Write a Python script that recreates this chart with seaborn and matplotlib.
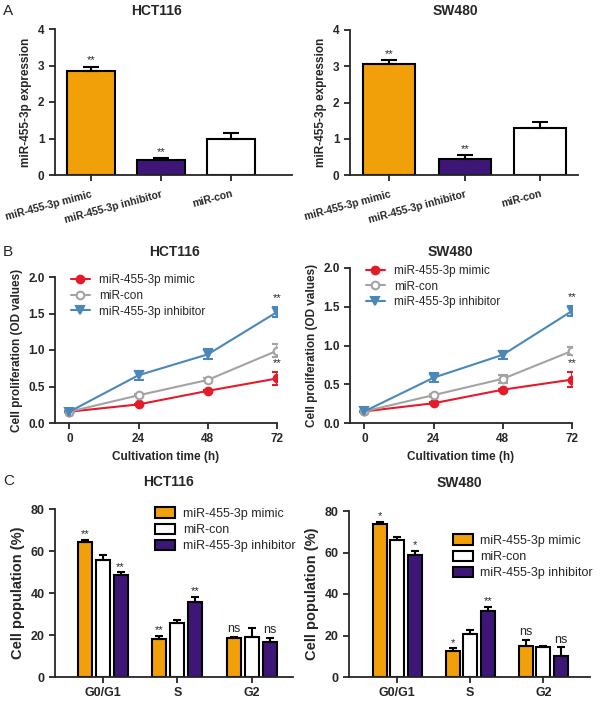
import numpy as np
import pandas as pd
import seaborn as sns
import matplotlib.pyplot as plt

# ---- data ----
groups_a = ['miR-455-3p mimic', 'miR-455-3p inhibitor', 'miR-con']
hct_expr = [2.85, 0.40, 1.00]
hct_expr_err = [0.12, 0.07, 0.15]
hct_expr_sig = ['**', '**', '']
sw_expr = [3.07, 0.45, 1.30]
sw_expr_err = [0.10, 0.10, 0.15]
sw_expr_sig = ['**', '**', '']

times = [0, 24, 48, 72]
hct_mimic = [0.155, 0.255, 0.44, 0.61]
hct_mimic_err = [0.01, 0.01, 0.015, 0.09]
hct_con = [0.155, 0.38, 0.59, 0.99]
hct_con_err = [0.01, 0.015, 0.02, 0.09]
hct_inh = [0.155, 0.655, 0.94, 1.52]
hct_inh_err = [0.01, 0.06, 0.07, 0.07]
sw_mimic = [0.15, 0.255, 0.43, 0.56]
sw_mimic_err = [0.01, 0.015, 0.015, 0.10]
sw_con = [0.15, 0.36, 0.57, 0.93]
sw_con_err = [0.01, 0.02, 0.05, 0.05]
sw_inh = [0.15, 0.585, 0.88, 1.445]
sw_inh_err = [0.01, 0.06, 0.05, 0.07]

phases = ['G0/G1', 'S', 'G2']
treat_c = ['miR-455-3p mimic', 'miR-con', 'miR-455-3p inhibitor']
hct_cycle = {'miR-455-3p mimic': [64.5, 18.0, 18.6],
             'miR-con': [55.6, 25.9, 19.2],
             'miR-455-3p inhibitor': [48.6, 35.6, 16.8]}
hct_cycle_err = {'miR-455-3p mimic': [0.8, 1.5, 0.5],
                 'miR-con': [2.4, 1.4, 4.0],
                 'miR-455-3p inhibitor': [1.3, 2.5, 2.0]}
hct_cycle_sig = {'miR-455-3p mimic': ['**', '**', 'ns'],
                 'miR-con': ['', '', ''],
                 'miR-455-3p inhibitor': ['**', '**', 'ns']}
sw_cycle = {'miR-455-3p mimic': [73.6, 12.3, 14.8],
            'miR-con': [65.9, 20.6, 14.3],
            'miR-455-3p inhibitor': [58.6, 31.8, 10.3]}
sw_cycle_err = {'miR-455-3p mimic': [1.2, 1.5, 3.0],
                'miR-con': [1.5, 2.0, 0.7],
                'miR-455-3p inhibitor': [2.3, 2.0, 4.0]}
sw_cycle_sig = {'miR-455-3p mimic': ['*', '*', 'ns'],
                'miR-con': ['', '', ''],
                'miR-455-3p inhibitor': ['*', '**', 'ns']}

ORANGE = '#F2A00A'
PURPLE = '#3D1678'
RED = '#E31B2B'
GRAY = '#A3A3A3'
BLUE = '#4A88BA'

sns.set_theme(style='ticks')
plt.rcParams['font.family'] = ['Liberation Sans', 'DejaVu Sans']
plt.rcParams['axes.linewidth'] = 1.3
plt.rcParams['xtick.major.width'] = 1.3
plt.rcParams['ytick.major.width'] = 1.3
plt.rcParams['xtick.major.size'] = 4
plt.rcParams['ytick.major.size'] = 4

W, H = 600, 702
fig = plt.figure(figsize=(6, 7.02), dpi=100)


def add_ax(l, t, r, b):
    return fig.add_axes([l / W, 1 - b / H, (r - l) / W, (b - t) / H])


def ftext(x, y, s, **kw):
    fig.text(x / W, 1 - y / H, s, **kw)


def style_ax(ax, fs=8.5):
    sns.despine(ax=ax)
    for lab in ax.get_xticklabels() + ax.get_yticklabels():
        lab.set_fontweight('bold')
        lab.set_fontsize(fs)


# ---- panel A ----
def panel_a(ax, vals, errs, sigs, xlim):
    df = pd.DataFrame({'group': groups_a, 'val': vals})
    sns.barplot(data=df, x='group', y='val', hue='group', order=groups_a,
                palette=[ORANGE, PURPLE, 'white'], saturation=1,
                edgecolor='black', linewidth=1.5, width=0.69, legend=False,
                ax=ax)
    bars = [c[0] for c in ax.containers]
    for bar, e, s in zip(bars, errs, sigs):
        cx = bar.get_x() + bar.get_width() / 2
        top = bar.get_height()
        ax.errorbar(cx, top, yerr=[[0], [e]], color='black', capsize=5.5,
                    elinewidth=1.5, capthick=1.5, zorder=3)
        if s:
            ax.text(cx, top + e + 0.03, s, ha='center', va='bottom', fontsize=8)
    ax.set_ylim(0, 4)
    ax.set_yticks([0, 1, 2, 3, 4])
    ax.set_xlim(*xlim)
    ax.set_xlabel('')
    ax.set_ylabel('miR-455-3p expression', fontsize=8.5, fontweight='bold')
    style_ax(ax)
    ax.set_xticks(range(3))
    ax.set_xticklabels(groups_a, rotation=15, ha='right', va='top',
                       rotation_mode='anchor', fontsize=7.5, fontweight='bold')
    ax.tick_params(axis='x', pad=6)


ax1 = add_ax(55, 29, 292, 175)
panel_a(ax1, hct_expr, hct_expr_err, hct_expr_sig, (-0.51, 2.87))
ax2 = add_ax(350, 30, 578, 175)
panel_a(ax2, sw_expr, sw_expr_err, sw_expr_sig, (-0.52, 2.5))


# ---- panel B ----
def panel_b(ax, series, errs):
    names = ['miR-455-3p mimic', 'miR-con', 'miR-455-3p inhibitor']
    rows = []
    for n, v in zip(names, series):
        for t, y in zip(times, v):
            rows.append({'time': t, 'od': y, 'group': n})
    df = pd.DataFrame(rows)
    pal = {names[0]: RED, names[1]: GRAY, names[2]: BLUE}
    sns.lineplot(data=df, x='time', y='od', hue='group', style='group',
                 hue_order=names, style_order=names, palette=pal,
                 markers={names[0]: 'o', names[1]: 'o', names[2]: 'v'},
                 dashes=False, markersize=5.5, linewidth=1.5,
                 markeredgewidth=1.5, legend=False, ax=ax)
    lines = ax.lines[:3]
    for ln, c in zip(lines, [RED, GRAY, BLUE]):
        ln.set_markeredgecolor(c)
    lines[1].set_markerfacecolor('white')
    for v, e, c in zip(series, errs, [RED, GRAY, BLUE]):
        ax.errorbar(times, v, yerr=e, fmt='none', ecolor=c, elinewidth=1.5,
                    capsize=3.5, capthick=1.5, zorder=1)
    ax.text(72, series[2][3] + errs[2][3] + 0.05, '**', ha='center',
            va='bottom', fontsize=8)
    ax.text(72, series[0][3] + errs[0][3] + 0.05, '**', ha='center',
            va='bottom', fontsize=8)
    ax.legend(lines, names, loc='upper left', frameon=False, fontsize=8.5,
              handlelength=1.6, bbox_to_anchor=(0.05, 1.05), borderaxespad=0,
              labelspacing=0.3)
    ax.set_xlim(-5, 72)
    ax.set_ylim(0, 2.0)
    ax.set_xticks(times)
    ax.set_yticks([0, 0.5, 1.0, 1.5, 2.0])
    ax.set_yticklabels(['0.0', '0.5', '1.0', '1.5', '2.0'])
    ax.set_xlabel('Cultivation time (h)', fontsize=8.5, fontweight='bold')
    ax.set_ylabel('Cell proliferation (OD values)', fontsize=8.5,
                  fontweight='bold')
    style_ax(ax)


ax3 = add_ax(55, 277, 277, 423)
panel_b(ax3, [hct_mimic, hct_con, hct_inh],
        [hct_mimic_err, hct_con_err, hct_inh_err])
ax4 = add_ax(350, 268, 572, 423)
panel_b(ax4, [sw_mimic, sw_con, sw_inh],
        [sw_mimic_err, sw_con_err, sw_inh_err])


# ---- panel C ----
def panel_c(ax, vals, errs, sigs, xlim, legend_anchor):
    rows = []
    for t in treat_c:
        for p, v in zip(phases, vals[t]):
            rows.append({'phase': p, 'pct': v, 'treat': t})
    df = pd.DataFrame(rows)
    sns.barplot(data=df, x='phase', y='pct', hue='treat', order=phases,
                hue_order=treat_c, palette=[ORANGE, 'white', PURPLE],
                saturation=1, edgecolor='black', linewidth=1.5, width=0.72,
                gap=0.22, ax=ax)
    for cont, t in zip(ax.containers, treat_c):
        for bar, e, s in zip(cont, errs[t], sigs[t]):
            cx = bar.get_x() + bar.get_width() / 2
            top = bar.get_height()
            ax.errorbar(cx, top, yerr=[[0], [e]], color='black', capsize=2.8,
                        elinewidth=1.5, capthick=1.5, zorder=3)
            if s == 'ns':
                ax.text(cx, top + e + 0.8, s, ha='center', va='bottom',
                        fontsize=9)
            elif s:
                ax.text(cx, top + e + 0.3, s, ha='center', va='bottom',
                        fontsize=8)
    ax.legend(loc='upper left', bbox_to_anchor=legend_anchor, frameon=False,
              fontsize=9, handlelength=1.6, handleheight=0.9,
              labelspacing=0.3, borderaxespad=0, handletextpad=0.6)
    ax.set_ylim(0, 80)
    ax.set_yticks([0, 20, 40, 60, 80])
    ax.set_xlim(*xlim)
    ax.set_xlabel('')
    ax.set_ylabel('Cell population (%)', fontsize=10.5, fontweight='bold')
    style_ax(ax, fs=9)


ax5 = add_ax(55, 509, 293, 677)
panel_c(ax5, hct_cycle, hct_cycle_err, hct_cycle_sig, (-0.64, 2.55),
        (0.4, 1.04))
ax6 = add_ax(349, 511, 590, 677)
panel_c(ax6, sw_cycle, sw_cycle_err, sw_cycle_sig, (-0.66, 2.64),
        (0.41, 0.89))

# ---- titles and panel letters ----
tkw = dict(ha='center', va='center', fontsize=10, fontweight='bold')
ftext(157, 11, 'HCT116', **tkw)
ftext(455, 11, 'SW480', **tkw)
ftext(174, 252, 'HCT116', **tkw)
ftext(450, 252, 'SW480', **tkw)
ftext(168, 482, 'HCT116', **tkw)
ftext(459, 483, 'SW480', **tkw)
lkw = dict(ha='left', va='center', fontsize=11)
ftext(3, 11, 'A', **lkw)
ftext(3, 252, 'B', **lkw)
ftext(3, 481, 'C', **lkw)

fig.savefig('out.png', dpi=100, facecolor='white')
